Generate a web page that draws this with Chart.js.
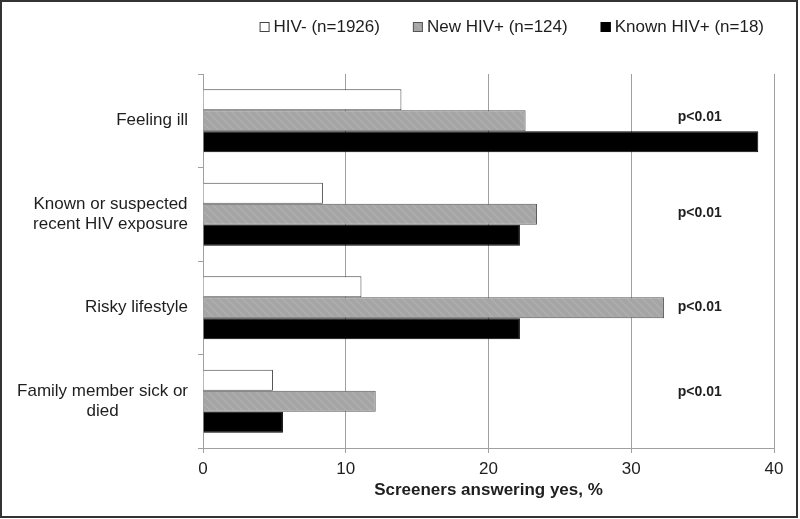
<!DOCTYPE html>
<html>
<head>
<meta charset="utf-8">
<script src="https://cdn.jsdelivr.net/npm/chart.js@4"></script>
<style>
  body { margin: 0; background: #fff; }
  canvas { display: block; }
</style>
</head>
<body>
<canvas id="myChart" width="800" height="519"></canvas>
<script>
var categories = ['Feeling ill', ['Known or suspected', 'recent HIV exposure'], 'Risky lifestyle', ['Family member sick or', 'died']];
var seriesNames = ['HIV- (n=1926)', 'New HIV+ (n=124)', 'Known HIV+ (n=18)'];
var hivNeg = [13.9, 8.4, 11.1, 4.9];
var newPos = [22.6, 23.4, 32.3, 12.1];
var knownPos = [38.9, 22.2, 22.2, 5.6];
var pLabels = ['p<0.01', 'p<0.01', 'p<0.01', 'p<0.01'];
var xMin = 0, xMax = 40, xStep = 10;
var xTitle = 'Screeners answering yes, %';

var FONT = '"Liberation Sans", Arial, sans-serif';
var TEXT = '#1e1e1e';

// grey bars have a faint diagonal hatch
function hatch() {
    var c = document.createElement('canvas');
    c.width = 8; c.height = 8;
    var g = c.getContext('2d');
    g.fillStyle = '#a5a5a5';
    g.fillRect(0, 0, 8, 8);
    g.strokeStyle = '#afafaf';
    g.lineWidth = 1.5;
    g.beginPath();
    g.moveTo(0, 0); g.lineTo(8, 8);
    g.moveTo(-4, 4); g.lineTo(4, 12);
    g.moveTo(4, -4); g.lineTo(12, 4);
    g.stroke();
    return g.createPattern(c, 'repeat');
}

var pattern = hatch();

var extras = {
    id: 'extras',
    afterDraw: function(chart) {
        var ctx = chart.ctx;
        var y = chart.scales.y;
        var x = chart.scales.x;
        ctx.save();

        // category labels, block right aligned, lines centred
        ctx.font = '17px ' + FONT;
        ctx.fillStyle = TEXT;
        ctx.textAlign = 'center';
        ctx.textBaseline = 'middle';
        var lh = 20.4;
        categories.forEach(function(lab, i) {
            var lines = Array.isArray(lab) ? lab : [lab];
            var w = 0;
            lines.forEach(function(t) { w = Math.max(w, ctx.measureText(t).width); });
            var cx = y.right - 15 - w / 2;
            var cy = y.getPixelForValue(i) - (lines.length - 1) * lh / 2;
            lines.forEach(function(t, j) { ctx.fillText(t, cx, cy + j * lh); });
        });

        // p values
        var pOff = [-4, -1.5, -1, -9.5];
        ctx.font = 'bold 14px ' + FONT;
        pLabels.forEach(function(t, i) {
            ctx.fillText(t, x.getPixelForValue(34.8), y.getPixelForValue(i) + pOff[i]);
        });

        // legend
        ctx.font = '17px ' + FONT;
        ctx.textAlign = 'left';
        var ds = chart.data.datasets;
        var widths = ds.map(function(d) { return 14 + ctx.measureText(d.label).width; });
        var total = widths.reduce(function(a, b) { return a + b; }, 0) + 33 * (ds.length - 1);
        var lx = 764 - total;
        ds.forEach(function(d, i) {
            ctx.fillStyle = d.backgroundColor;
            ctx.fillRect(lx, 22, 10, 10);
            ctx.strokeStyle = d.borderColor;
            ctx.lineWidth = 1;
            ctx.strokeRect(lx + 0.5, 22.5, 9, 9);
            ctx.fillStyle = TEXT;
            ctx.fillText(d.label, lx + 14, 27);
            lx += widths[i] + 33;
        });

        // frame
        ctx.strokeStyle = '#333';
        ctx.lineWidth = 2;
        ctx.strokeRect(1, 1, 796, 516);
        ctx.restore();
    }
};

function input() {
    var ctx = document.getElementById('myChart').getContext('2d');
    var chart = new Chart(ctx, {
        type: 'bar',
        data: {
            labels: categories,
            datasets: [{
                label: seriesNames[0],
                data: hivNeg,
                backgroundColor: '#ffffff',
                borderColor: '#444444',
                borderWidth: 1
            }, {
                label: seriesNames[1],
                data: newPos,
                backgroundColor: pattern,
                borderColor: '#555555',
                borderWidth: 1
            }, {
                label: seriesNames[2],
                data: knownPos,
                backgroundColor: '#000000',
                borderColor: '#000000',
                borderWidth: 1
            }]
        },
        options: {
            indexAxis: 'y',
            responsive: false,
            animation: false,
            events: [],
            categoryPercentage: 0.674,
            barPercentage: 1.0,
            layout: { padding: { top: 74, right: 26, left: 0, bottom: 0 } },
            plugins: {
                legend: { display: false },
                tooltip: { enabled: false }
            },
            scales: {
                x: {
                    min: xMin,
                    max: xMax,
                    afterFit: function(s) { s.height = 71; },
                    ticks: {
                        stepSize: xStep,
                        padding: 6,
                        color: TEXT,
                        font: { family: FONT, size: 17 }
                    },
                    grid: { color: '#a0a0a0', lineWidth: 1, tickLength: 5 },
                    border: { color: '#a0a0a0', width: 1 },
                    title: {
                        display: true,
                        text: xTitle,
                        color: TEXT,
                        font: { family: FONT, size: 17, weight: 'bold' },
                        padding: { top: 0, bottom: 18 }
                    }
                },
                y: {
                    afterFit: function(s) { s.width = 203; },
                    ticks: { color: 'rgba(0,0,0,0)', font: { family: FONT, size: 17 } },
                    grid: { drawOnChartArea: false, color: '#a0a0a0', tickLength: 5, offset: true },
                    border: { color: '#a0a0a0', width: 1 }
                }
            }
        },
        plugins: [extras]
    });
}
input();
</script>
</body>
</html>
